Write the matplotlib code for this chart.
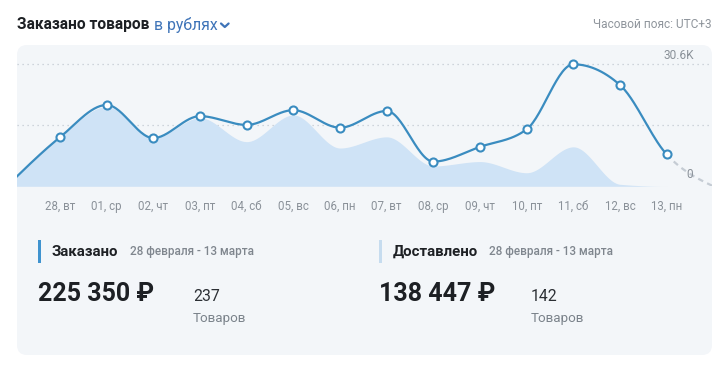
"""Заказано / доставлено товаров за период: график с монотонным сглаживанием."""
import numpy as np
import matplotlib
matplotlib.use("Agg")
import matplotlib.pyplot as plt
from matplotlib.patches import FancyBboxPatch, Rectangle

plt.rcParams["font.family"] = ["Roboto", "DejaVu Sans"]

# данные: 27 февраля (за краем) ... 14 марта (прогноз, пунктир)
tick_labels = ["28, вт", "01, ср", "02, чт", "03, пт", "04, сб", "05, вс", "06, пн",
               "07, вт", "08, ср", "09, чт", "10, пт", "11, сб", "12, вс", "13, пн"]
ordered = [1600, 12300, 20400, 12100, 17600, 15400, 19100, 14700,
           18900, 6200, 9900, 14300, 30600, 25400, 8000, 0]
delivered = [1600, 12300, 20000, 12100, 17200, 11200, 17900, 9600,
             12400, 5100, 6200, 3400, 9900, 500, 0, 0]
grid_values = [15300, 30600]
ymax_label = "30.6K"

period = "28 февраля - 13 марта"
ordered_total = "225 350 ₽"
ordered_count = "237"
delivered_total = "138 447 ₽"
delivered_count = "142"

LINE = "#3a8cc0"
FILL = "#cfe3f6"
GRAY = "#8a9199"
PANEL = "#f3f6f9"


def monotone_x(x, y, n=30):
    """Кривая как d3.curveMonotoneX."""
    x = np.asarray(x, float)
    y = np.asarray(y, float)
    h = np.diff(x)
    s = np.diff(y) / h
    m = np.zeros_like(y)
    for k in range(1, len(y) - 1):
        p = (s[k - 1] * h[k] + s[k] * h[k - 1]) / (h[k - 1] + h[k])
        m[k] = (np.sign(s[k - 1]) + np.sign(s[k])) * min(abs(s[k - 1]), abs(s[k]), 0.5 * abs(p))
    m[0] = (3 * s[0] - m[1]) / 2
    m[-1] = (3 * s[-1] - m[-2]) / 2
    xs, ys = [], []
    for k in range(len(h)):
        t = np.linspace(0, 1, n, endpoint=(k == len(h) - 1))
        h00 = 2 * t**3 - 3 * t**2 + 1
        h10 = t**3 - 2 * t**2 + t
        h01 = -2 * t**3 + 3 * t**2
        h11 = t**3 - t**2
        xs.append(x[k] + t * h[k])
        ys.append(h00 * y[k] + h10 * h[k] * m[k] + h01 * y[k + 1] + h11 * h[k] * m[k + 1])
    return np.concatenate(xs), np.concatenate(ys)


W, H = 720, 367
fig = plt.figure(figsize=(W / 100, H / 100), dpi=100)

# фон в пиксельных координатах
bg = fig.add_axes([0, 0, 1, 1])
bg.set_xlim(0, W)
bg.set_ylim(H, 0)
bg.axis("off")
bg.add_patch(FancyBboxPatch((17, 45), 695, 310, boxstyle="round,pad=0,rounding_size=10",
                            facecolor=PANEL, edgecolor="none"))

# заголовок
bg.text(17, 25, "Заказано товаров", fontsize=11.2, fontweight="bold", color="#1d2024", va="center")
bg.text(154, 25, "в рублях", fontsize=11.3, color="#3f74b8", va="center")
bg.plot([221, 224.8, 228.6], [23.5, 27, 23.5], color="#3f74b8", lw=1.6, solid_capstyle="round")
bg.text(712, 24, "Часовой пояс: UTC+3", fontsize=8.6, color="#8f959c", va="center", ha="right")

# карточки
cards = [
    (38, "#3f93cf", "Заказано", ordered_total, ordered_count, 193),
    (379, "#c6dcef", "Доставлено", delivered_total, delivered_count, 531),
]
for x0, accent, name, total, count, xc in cards:
    bg.add_patch(Rectangle((x0, 240), 3, 23, facecolor=accent, edgecolor="none"))
    t = bg.text(x0 + 14, 251.5, name, fontsize=10.8, fontweight="bold", color="#1d2024", va="center")
    fig.canvas.draw()
    bb = t.get_window_extent()
    bg.text(bb.x1 + 11, 251, period, fontsize=8.5, fontweight="medium", color="#7f868e", va="center")
    bg.text(x0, 294, total, fontsize=18, fontweight="bold", color="#1d2024", va="center")
    bg.text(xc, 296.5, count, fontsize=11.3, color="#2b2f34", va="center")
    bg.text(xc, 318.5, "Товаров", fontsize=9.6, color="#7a828a", va="center")

# график
x_left, x_right, y_top, y_base = 17, 712, 45, 186.3
px_per_unit = (y_base - 64.3) / grid_values[-1]
ax = fig.add_axes([x_left / W, (H - y_base) / H, (x_right - x_left) / W, (y_base - y_top) / H])
ax.patch.set_alpha(0)
for sp in ax.spines.values():
    sp.set_visible(False)

days = np.arange(len(ordered))
step = 46.67
ax.set_xlim((x_left - 13.3) / step, (x_right - 13.3) / step)
ax.set_ylim(0, (y_base - y_top) / px_per_unit)

for gv in grid_values:
    ax.axhline(gv, color="#c3cad2", lw=0.9, ls=(0, (1, 3)), zorder=1)

dx, dy = monotone_x(days, delivered)
ax.fill_between(dx, dy, 0, color=FILL, lw=0, zorder=2)

ox, oy = monotone_x(days, ordered)
last = len(ordered) - 2
solid = ox <= last
ax.plot(ox[solid], oy[solid], color=LINE, lw=1.6, zorder=3, solid_capstyle="round")
ax.plot(ox[ox >= last], oy[ox >= last], color="#c5ccd4", lw=1.6, ls=(0, (2.5, 2)), zorder=3)
ax.plot(days[1:-1], ordered[1:-1], "o", ms=5.8, mfc="white", mec=LINE, mew=1.5, zorder=4)

ax.text((679 - 13.3) / step, grid_values[-1] + 2.5 / px_per_unit, ymax_label, fontsize=8.6,
        color=GRAY, ha="center", va="bottom")
ax.text((690 - 13.3) / step, 12.3 / px_per_unit, "0", fontsize=8.6, color=GRAY,
        ha="center", va="center")

ax.set_xticks(days[1:-1])
ax.set_xticklabels(tick_labels, fontsize=8.3, color=GRAY)
ax.tick_params(axis="x", length=0, pad=10)
ax.set_yticks([])

fig.savefig("out.png", dpi=100)
